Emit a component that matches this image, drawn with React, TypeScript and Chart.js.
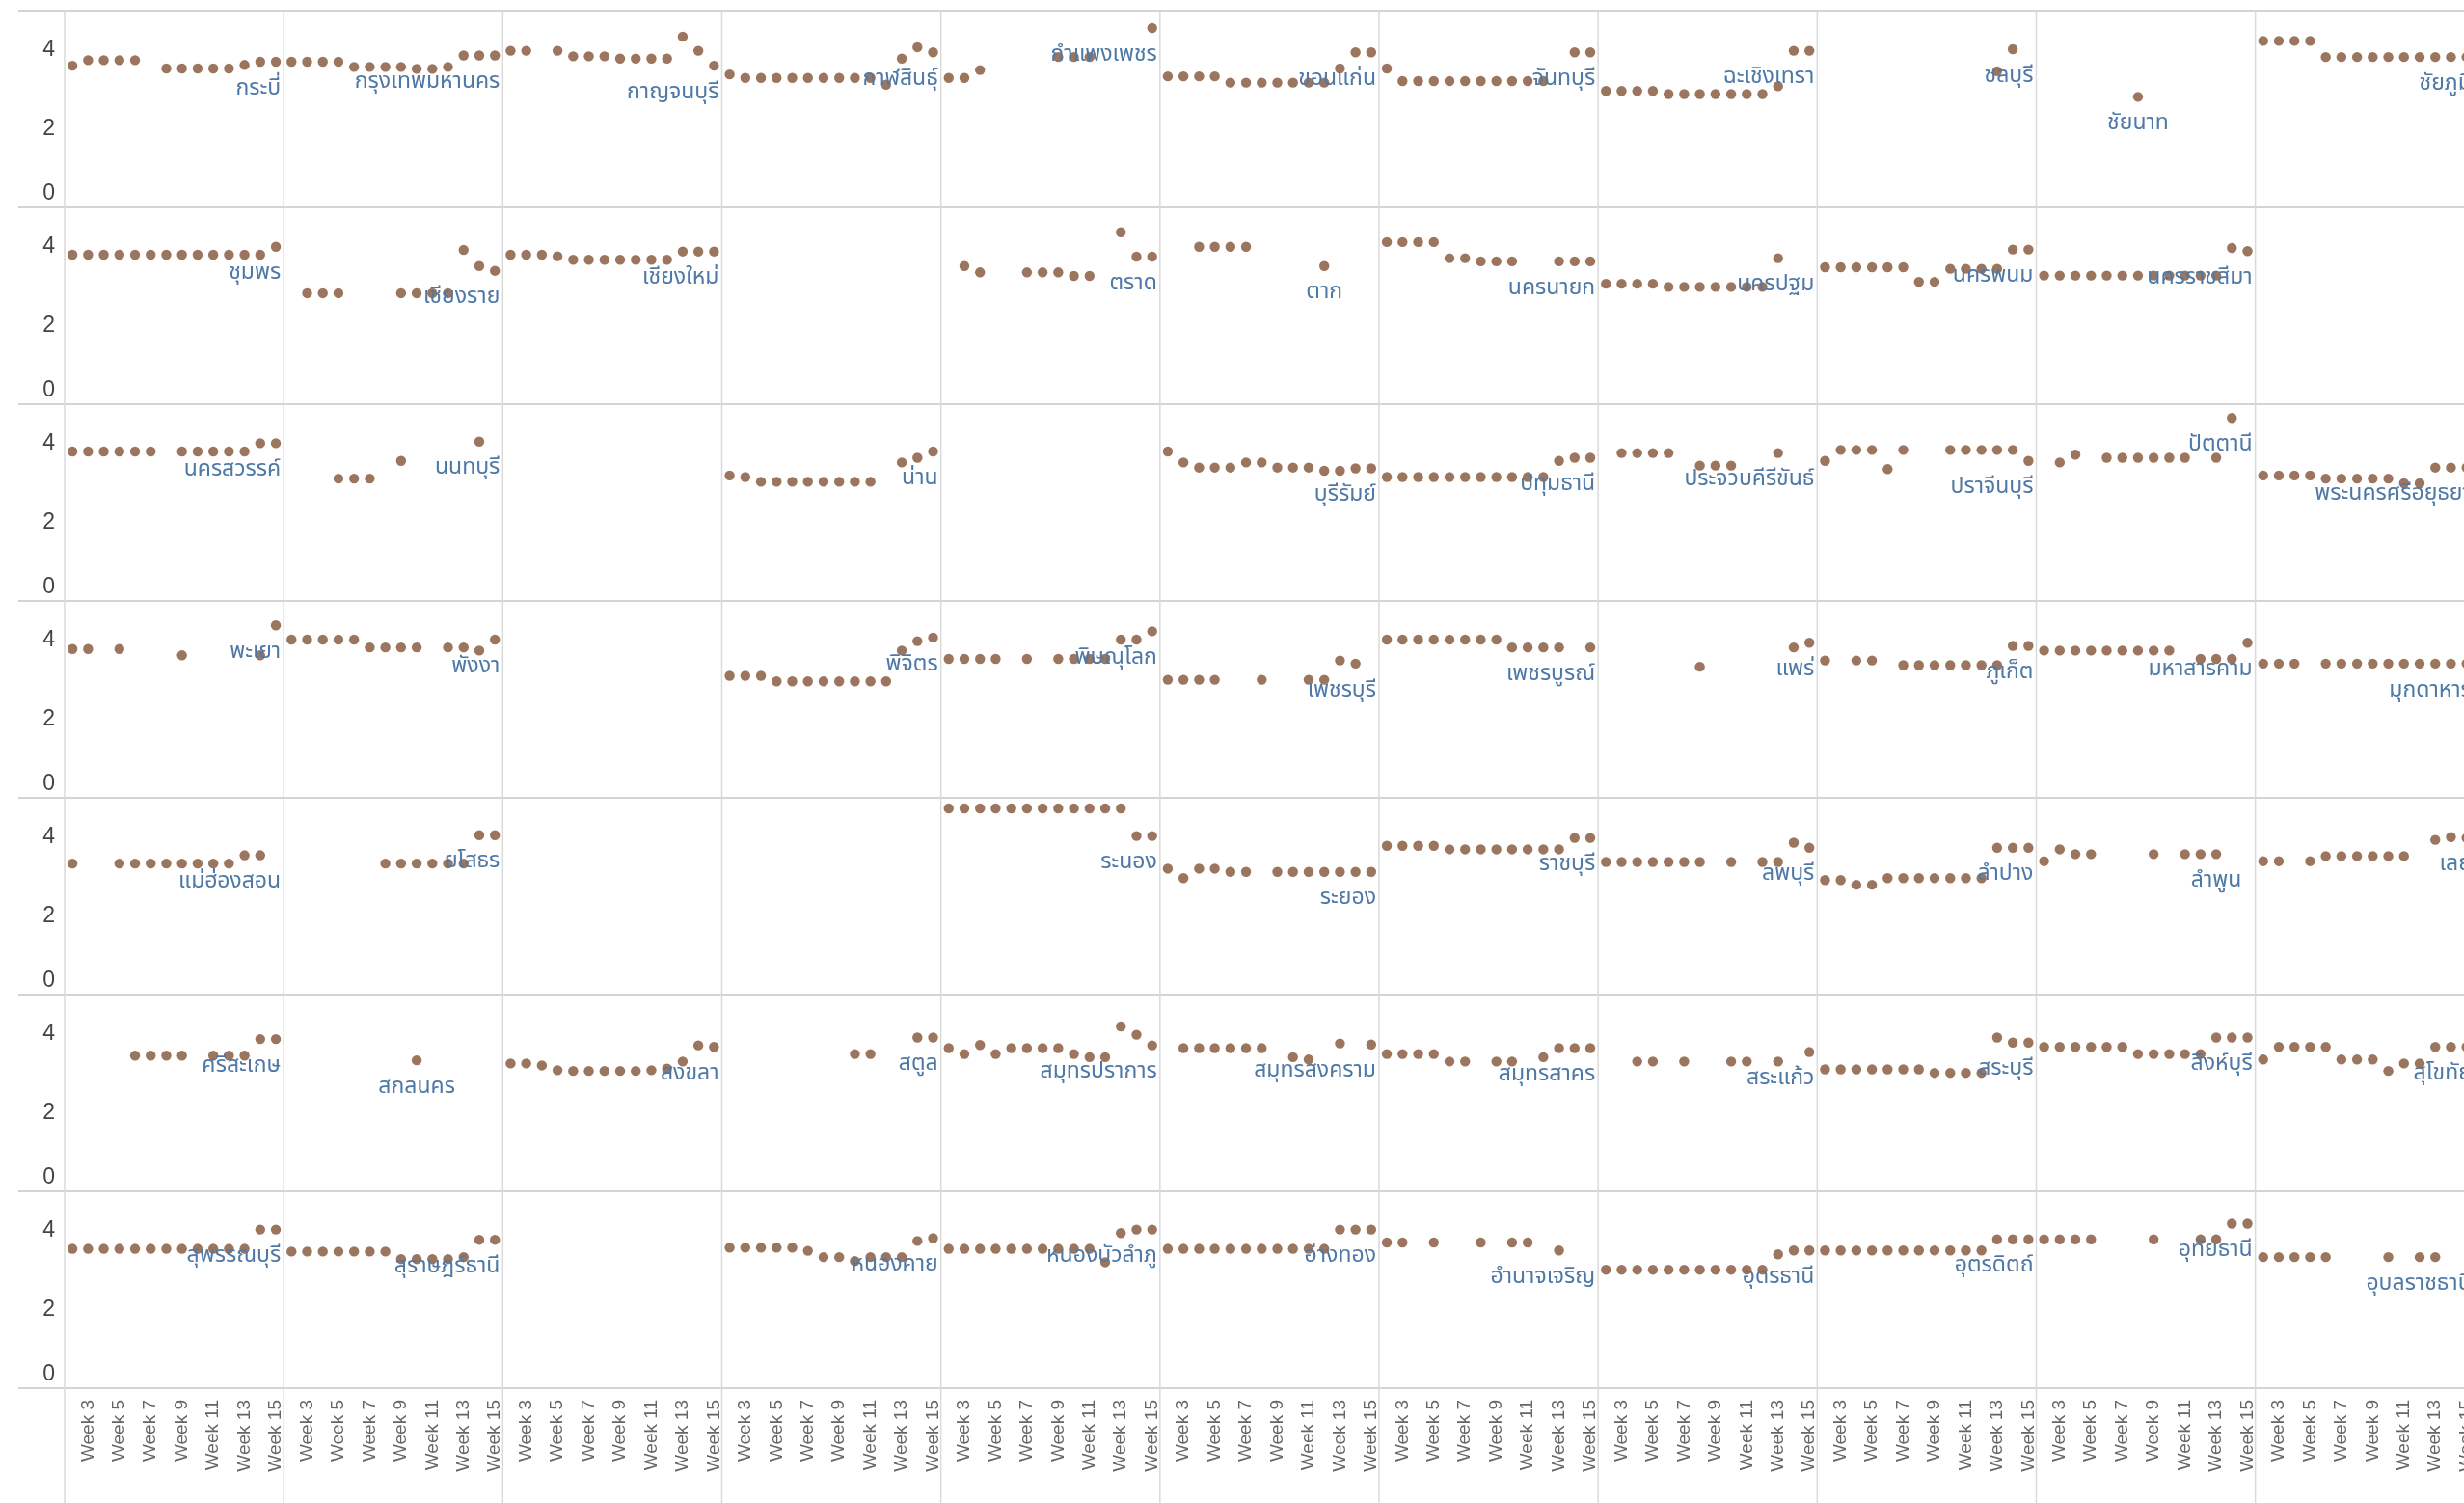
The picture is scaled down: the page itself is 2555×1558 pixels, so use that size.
import React, { useEffect, useRef } from "react";
import { Chart, registerables } from "chart.js";

Chart.register(...registerables);

const N = null;

const weeks = [
  "Week 2", "Week 3", "Week 4", "Week 5", "Week 6", "Week 7", "Week 8",
  "Week 9", "Week 10", "Week 11", "Week 12", "Week 13", "Week 14", "Week 15",
];
const yTickValues = [0, 2, 4];

const row1Provinces = ["กระบี่", "กรุงเทพมหานคร", "กาญจนบุรี", "กาฬสินธุ์", "กำแพงเพชร", "ขอนแก่น", "จันทบุรี", "ฉะเชิงเทรา", "ชลบุรี", "ชัยนาท", "ชัยภูมิ"];
const row1Scores = [
  [3.6, 3.74, 3.74, 3.74, 3.74, N, 3.53, 3.53, 3.53, 3.53, 3.53, 3.62, 3.7, 3.7],
  [3.7, 3.7, 3.7, 3.7, 3.57, 3.57, 3.57, 3.57, 3.52, 3.52, 3.57, 3.86, 3.86, 3.86],
  [3.98, 3.98, N, 3.98, 3.84, 3.84, 3.84, 3.78, 3.78, 3.78, 3.78, 4.34, 3.98, 3.6],
  [3.38, 3.29, 3.29, 3.29, 3.29, 3.29, 3.29, 3.29, 3.29, 3.29, 3.12, 3.78, 4.07, 3.94],
  [3.29, 3.29, 3.49, N, N, N, N, 3.82, 3.82, 3.82, N, N, N, 4.56],
  [3.33, 3.33, 3.33, 3.33, 3.17, 3.17, 3.17, 3.17, 3.17, 3.17, 3.17, 3.53, 3.94, 3.94],
  [3.53, 3.21, 3.21, 3.21, 3.21, 3.21, 3.21, 3.21, 3.21, 3.21, 3.21, N, 3.94, 3.94],
  [2.96, 2.96, 2.96, 2.96, 2.88, 2.88, 2.88, 2.88, 2.88, 2.88, 2.88, 3.08, 3.98, 3.98],
  [N, N, N, N, N, N, N, N, N, N, N, 3.46, 4.02, N],
  [N, N, N, N, N, N, 2.81, N, N, N, N, N, N, N],
  [4.23, 4.23, 4.23, 4.23, 3.82, 3.82, 3.82, 3.82, 3.82, 3.82, 3.82, 3.82, 3.82, 3.82],
];

const row2Provinces = ["ชุมพร", "เชียงราย", "เชียงใหม่", "ตรัง", "ตราด", "ตาก", "นครนายก", "นครปฐม", "นครพนม", "นครราชสีมา", "นครศรีธรรมราช"];
const row2Scores = [
  [3.8, 3.8, 3.8, 3.8, 3.8, 3.8, 3.8, 3.8, 3.8, 3.8, 3.8, 3.8, 3.8, 4.0],
  [N, 2.82, 2.82, 2.82, N, N, N, 2.82, 2.82, 2.82, 2.82, 3.92, 3.51, 3.39],
  [3.8, 3.8, 3.8, 3.76, 3.67, 3.67, 3.67, 3.67, 3.67, 3.67, 3.67, 3.88, 3.88, 3.88],
  [N, N, N, N, N, N, N, N, N, N, N, N, N, N],
  [N, 3.51, 3.35, N, N, 3.35, 3.35, 3.35, 3.26, 3.26, N, 4.37, 3.75, 3.75],
  [N, N, 4.0, 4.0, 4.0, 4.0, N, N, N, N, 3.51, N, N, N],
  [4.12, 4.12, 4.12, 4.12, 3.71, 3.71, 3.63, 3.63, 3.63, N, N, 3.63, 3.63, 3.63],
  [3.06, 3.06, 3.06, 3.06, 2.98, 2.98, 2.98, 2.98, 2.98, 2.98, 2.98, 3.71, N, N],
  [3.48, 3.48, 3.48, 3.48, 3.48, 3.48, 3.11, 3.11, 3.44, 3.44, 3.44, 3.44, 3.93, 3.93],
  [3.27, 3.27, 3.27, 3.27, 3.27, 3.27, 3.27, 3.27, 3.27, 3.27, 3.27, 3.27, 3.97, 3.89],
  [N, N, N, N, N, N, N, N, N, N, N, N, N, N],
];

const row3Provinces = ["นครสวรรค์", "นนทบุรี", "นราธิวาส", "น่าน", "บึงกาฬ", "บุรีรัมย์", "ปทุมธานี", "ประจวบคีรีขันธ์", "ปราจีนบุรี", "ปัตตานี", "พระนครศรีอยุธยา"];
const row3Scores = [
  [3.8, 3.8, 3.8, 3.8, 3.8, 3.8, N, 3.8, 3.8, 3.8, 3.8, 3.8, 4.01, 4.01],
  [N, N, N, 3.11, 3.11, 3.11, N, 3.56, N, N, N, N, 4.05, N],
  [N, N, N, N, N, N, N, N, N, N, N, N, N, N],
  [3.19, 3.15, 3.03, 3.03, 3.03, 3.03, 3.03, 3.03, 3.03, 3.03, N, 3.52, 3.64, 3.8],
  [N, N, N, N, N, N, N, N, N, N, N, N, N, N],
  [3.8, 3.52, 3.39, 3.39, 3.39, 3.52, 3.52, 3.39, 3.39, 3.39, 3.31, 3.31, 3.37, 3.37],
  [3.15, 3.15, 3.15, 3.15, 3.15, 3.15, 3.15, 3.15, 3.15, 3.15, 3.15, 3.56, 3.64, 3.64],
  [N, 3.76, 3.76, 3.76, 3.76, N, 3.44, 3.44, 3.44, N, N, 3.76, N, N],
  [3.56, 3.84, 3.84, 3.84, 3.35, 3.84, N, N, 3.84, 3.84, 3.84, 3.84, 3.84, 3.56],
  [N, 3.52, 3.72, N, 3.64, 3.64, 3.64, 3.64, 3.64, 3.64, N, 3.64, 4.65, N],
  [3.19, 3.19, 3.19, 3.19, 3.11, 3.11, 3.11, 3.11, 3.11, 2.99, 2.99, 3.39, 3.39, 3.39],
];

const row4Provinces = ["พะเยา", "พังงา", "พัทลุง", "พิจิตร", "พิษณุโลก", "เพชรบุรี", "เพชรบูรณ์", "แพร่", "ภูเก็ต", "มหาสารคาม", "มุกดาหาร"];
const row4Scores = [
  [3.78, 3.78, N, 3.78, N, N, N, 3.62, N, N, N, N, 3.62, 4.38],
  [4.02, 4.02, 4.02, 4.02, 4.02, 3.82, 3.82, 3.82, 3.82, N, 3.82, 3.82, 3.74, 4.02],
  [N, N, N, N, N, N, N, N, N, N, N, N, N, N],
  [3.1, 3.1, 3.1, 2.96, 2.96, 2.96, 2.96, 2.96, 2.96, 2.96, 2.96, 3.74, 3.98, 4.07],
  [3.53, 3.53, 3.53, 3.53, N, 3.53, N, 3.53, 3.53, 3.53, 3.53, 4.02, 4.02, 4.23],
  [3.0, 3.0, 3.0, 3.0, N, N, 3.0, N, N, 3.0, 3.0, 3.49, 3.41, N],
  [4.02, 4.02, 4.02, 4.02, 4.02, 4.02, 4.02, 4.02, 3.82, 3.82, 3.82, 3.82, N, 3.82],
  [N, N, N, N, N, N, 3.33, N, N, N, N, N, 3.82, 3.94],
  [3.49, N, 3.49, 3.49, N, 3.37, 3.37, 3.37, 3.37, 3.37, 3.37, 3.37, 3.86, 3.86],
  [3.74, 3.74, 3.74, 3.74, 3.74, 3.74, 3.74, 3.74, 3.74, N, 3.53, 3.53, 3.53, 3.94],
  [3.41, 3.41, 3.41, N, 3.41, 3.41, 3.41, 3.41, 3.41, 3.41, 3.41, 3.41, 3.41, 3.41],
];

const row5Provinces = ["แม่ฮ่องสอน", "ยโสธร", "ยะลา", "ร้อยเอ็ด", "ระนอง", "ระยอง", "ราชบุรี", "ลพบุรี", "ลำปาง", "ลำพูน", "เลย"];
const row5Scores = [
  [3.33, N, N, 3.33, 3.33, 3.33, 3.33, 3.33, 3.33, 3.33, 3.33, 3.54, 3.54, N],
  [N, N, N, N, N, N, 3.33, 3.33, 3.33, 3.33, 3.33, 3.33, 4.05, 4.05],
  [N, N, N, N, N, N, N, N, N, N, N, N, N, N],
  [N, N, N, N, N, N, N, N, N, N, N, N, N, N],
  [4.73, 4.73, 4.73, 4.73, 4.73, 4.73, 4.73, 4.73, 4.73, 4.73, 4.73, 4.73, 4.03, 4.03],
  [3.2, 2.96, 3.2, 3.2, 3.12, 3.12, N, 3.12, 3.12, 3.12, 3.12, 3.12, 3.12, 3.12],
  [3.78, 3.78, 3.78, 3.78, 3.69, 3.69, 3.69, 3.69, 3.69, 3.69, 3.69, 3.69, 3.98, 3.98],
  [3.37, 3.37, 3.37, 3.37, 3.37, 3.37, 3.37, N, 3.37, N, 3.37, 3.37, 3.86, 3.73],
  [2.91, 2.91, 2.79, 2.79, 2.96, 2.96, 2.96, 2.96, 2.96, 2.96, 2.96, 3.73, 3.73, 3.73],
  [3.39, 3.69, 3.57, 3.57, N, N, N, 3.57, N, 3.57, 3.57, 3.57, N, N],
  [3.39, 3.39, N, 3.39, 3.52, 3.52, 3.52, 3.52, 3.52, 3.52, N, 3.93, 4.0, 3.98],
];

const row6Provinces = ["ศรีสะเกษ", "สกลนคร", "สงขลา", "สตูล", "สมุทรปราการ", "สมุทรสงคราม", "สมุทรสาคร", "สระแก้ว", "สระบุรี", "สิงห์บุรี", "สุโขทัย"];
const row6Scores = [
  [N, N, N, N, 3.45, 3.45, 3.45, 3.45, N, 3.45, 3.45, 3.45, 3.87, 3.87],
  [N, N, N, N, N, N, N, N, 3.33, N, N, N, N, N],
  [3.25, 3.25, 3.2, 3.08, 3.06, 3.06, 3.06, 3.06, 3.06, 3.08, 3.12, 3.3, 3.71, 3.67],
  [N, N, N, N, N, N, N, N, 3.49, 3.49, N, N, 3.91, 3.91],
  [3.64, 3.49, 3.72, 3.49, 3.64, 3.64, 3.64, 3.64, 3.49, 3.41, 3.41, 4.19, 3.98, 3.71],
  [N, 3.64, 3.64, 3.64, 3.64, 3.64, 3.64, N, 3.41, 3.35, N, 3.76, N, 3.73],
  [3.49, 3.49, 3.49, 3.49, 3.3, 3.3, N, 3.3, 3.3, N, 3.41, 3.64, 3.64, 3.64],
  [N, N, 3.3, 3.3, N, 3.3, N, N, 3.3, 3.3, N, 3.3, N, 3.54],
  [3.1, 3.1, 3.1, 3.1, 3.1, 3.1, 3.1, 3.01, 3.01, 3.01, 3.01, 3.91, 3.78, 3.78],
  [3.67, 3.67, 3.67, 3.67, 3.67, 3.67, 3.49, 3.49, 3.49, 3.49, 3.49, 3.91, 3.91, 3.91],
  [3.35, 3.67, 3.67, 3.67, 3.67, 3.35, 3.35, 3.35, 3.06, 3.25, 3.25, 3.67, 3.67, 3.67],
];

const row7Provinces = ["สุพรรณบุรี", "สุราษฎร์ธานี", "สุรินทร์", "หนองคาย", "หนองบัวลำภู", "อ่างทอง", "อำนาจเจริญ", "อุดรธานี", "อุตรดิตถ์", "อุทัยธานี", "อุบลราชธานี"];
const row7Scores = [
  [3.54, 3.54, 3.54, 3.54, 3.54, 3.54, 3.54, 3.54, 3.54, 3.54, 3.54, 3.54, 4.03, 4.03],
  [3.47, 3.47, 3.47, 3.47, 3.47, 3.47, 3.47, 3.28, 3.28, 3.28, 3.28, 3.33, 3.77, 3.77],
  [N, N, N, N, N, N, N, N, N, N, N, N, N, N],
  [3.57, 3.57, 3.57, 3.57, 3.57, 3.49, 3.33, 3.33, 3.23, 3.33, 3.33, 3.33, 3.74, 3.81],
  [3.54, 3.54, 3.54, 3.54, 3.54, 3.54, 3.54, 3.54, 3.54, 3.54, 3.2, 3.94, 4.03, 4.03],
  [3.54, 3.54, 3.54, 3.54, 3.54, 3.54, 3.54, 3.54, 3.54, 3.54, 3.54, 4.03, 4.03, 4.03],
  [3.7, 3.7, N, 3.7, N, N, 3.7, N, 3.7, 3.7, N, 3.5, N, N],
  [3.01, 3.01, 3.01, 3.01, 3.01, 3.01, 3.01, 3.01, 3.01, 3.01, 3.01, 3.4, 3.5, 3.5],
  [3.5, 3.5, 3.5, 3.5, 3.5, 3.5, 3.5, 3.5, 3.5, 3.5, 3.5, 3.78, 3.78, 3.78],
  [3.78, 3.78, 3.78, 3.78, N, N, N, 3.78, N, N, 3.78, 3.78, 4.18, 4.18],
  [3.33, 3.33, 3.33, 3.33, 3.33, N, N, N, 3.33, N, 3.33, 3.33, N, N],
];

const provinceRows = [row1Provinces, row2Provinces, row3Provinces, row4Provinces, row5Provinces, row6Provinces, row7Provinces];
const scoreRows = [row1Scores, row2Scores, row3Scores, row4Scores, row5Scores, row6Scores, row7Scores];

const CANVAS_W = 2571;
const CANVAS_H = 1558;
const AXIS_W = 67;
const AXIS_H = 119;
const TOP_PAD = 11;
const DOT = "#9c755f";
const LABEL_BLUE = "#4e79a7";
const LINE = "#d4d4d4";
const THAI_FONT = '"Noto Sans Thai", "Noto Sans Thai UI", "Noto Sans", "DejaVu Sans", sans-serif';
const LATIN_FONT = '"Liberation Sans", Arial, sans-serif';

export default function App() {
  const ref = useRef<HTMLCanvasElement | null>(null);

  useEffect(() => {
    const canvas = ref.current;
    if (!canvas) return;
    const nCols = row1Provinces.length;
    const nRows = provinceRows.length;

    const scales: any = {};
    for (let c = 0; c < nCols; c++) {
      scales["x" + c] = {
        type: "category",
        labels: weeks,
        position: "bottom",
        stack: "cols",
        stackWeight: 1,
        weight: c,
        offset: true,
        grid: { display: false, drawTicks: false },
        border: { display: false },
        ticks: {
          autoSkip: false,
          minRotation: 90,
          maxRotation: 90,
          padding: 12,
          color: "#666",
          font: { family: LATIN_FONT, size: 19 },
          callback: (_v: any, i: number) => (i % 2 === 1 ? weeks[i] : ""),
        },
        afterFit: (s: any) => {
          s.height = AXIS_H;
          s.paddingLeft = 0;
          s.paddingRight = 0;
        },
      };
    }
    for (let r = 0; r < nRows; r++) {
      scales["y" + r] = {
        type: "linear",
        position: "left",
        stack: "rows",
        stackWeight: 1,
        weight: nRows - r,
        min: 0,
        max: 5,
        grid: { display: false, drawTicks: false },
        border: { display: false },
        ticks: { display: false },
        afterFit: (s: any) => {
          s.width = AXIS_W;
          s.paddingTop = 0;
          s.paddingBottom = 0;
        },
      };
    }

    const datasets: any[] = [];
    provinceRows.forEach((names, r) => {
      names.forEach((name, c) => {
        datasets.push({
          label: name,
          data: scoreRows[r][c],
          xAxisID: "x" + c,
          yAxisID: "y" + r,
          showLine: false,
          pointRadius: 5.2,
          pointHoverRadius: 5.2,
          pointBackgroundColor: DOT,
          pointBorderWidth: 0,
          borderColor: DOT,
          backgroundColor: DOT,
        });
      });
    });

    const panelLines = {
      id: "panelLines",
      beforeDatasetsDraw(chart: any) {
        const ctx = chart.ctx;
        ctx.save();
        ctx.strokeStyle = LINE;
        ctx.lineWidth = 2;
        for (let r = 0; r < nRows; r++) {
          const s = chart.scales["y" + r];
          ctx.beginPath();
          ctx.moveTo(19, s.top);
          ctx.lineTo(CANVAS_W, s.top);
          ctx.stroke();
          if (r === nRows - 1) {
            ctx.beginPath();
            ctx.moveTo(19, s.bottom);
            ctx.lineTo(CANVAS_W, s.bottom);
            ctx.stroke();
          }
        }
        ctx.strokeStyle = "#dadada";
        ctx.lineWidth = 1.5;
        for (let c = 0; c < nCols; c++) {
          const s = chart.scales["x" + c];
          ctx.beginPath();
          ctx.moveTo(s.left, chart.chartArea.top);
          ctx.lineTo(s.left, CANVAS_H);
          ctx.stroke();
        }
        ctx.restore();
      },
    };

    const yTickLabels = {
      id: "yTickLabels",
      afterDraw(chart: any) {
        const ctx = chart.ctx;
        ctx.save();
        ctx.fillStyle = "#444";
        ctx.font = `23px ${LATIN_FONT}`;
        ctx.textAlign = "right";
        for (let r = 0; r < nRows; r++) {
          const s = chart.scales["y" + r];
          yTickValues.forEach((v) => {
            const y = s.getPixelForValue(v);
            if (v === 0) {
              ctx.textBaseline = "alphabetic";
              ctx.fillText(String(v), s.right - 10, y - 8);
            } else {
              ctx.textBaseline = "middle";
              ctx.fillText(String(v), s.right - 10, y);
            }
          });
        }
        ctx.restore();
      },
    };

    const provinceLabels = {
      id: "provinceLabels",
      afterDatasetsDraw(chart: any) {
        const ctx = chart.ctx;
        ctx.save();
        ctx.fillStyle = LABEL_BLUE;
        ctx.font = `23px ${THAI_FONT}`;
        ctx.textAlign = "center";
        ctx.textBaseline = "middle";
        chart.data.datasets.forEach((ds: any, i: number) => {
          let last = -1;
          ds.data.forEach((v: any, j: number) => {
            if (v !== null && v !== undefined) last = j;
          });
          if (last < 0) return;
          const pt = chart.getDatasetMeta(i).data[last];
          const xs = chart.scales[ds.xAxisID];
          const w = ctx.measureText(ds.label).width;
          let cx = pt.x;
          cx = Math.min(cx, xs.right - w / 2 - 3);
          cx = Math.max(cx, xs.left + w / 2 + 3);
          ctx.fillText(ds.label, cx, pt.y + 29);
        });
        ctx.restore();
      },
    };

    const chart = new Chart(canvas, {
      type: "line",
      data: { labels: weeks, datasets },
      options: {
        animation: false,
        responsive: false,
        devicePixelRatio: 1,
        events: [],
        layout: { padding: { top: TOP_PAD, left: 0, right: 0, bottom: 0 } },
        plugins: {
          legend: { display: false },
          tooltip: { enabled: false },
          title: { display: false },
        },
        scales,
      },
      plugins: [panelLines, yTickLabels, provinceLabels],
    } as any);

    return () => chart.destroy();
  }, []);

  return (
    <div
      style={{
        position: "absolute",
        left: 0,
        top: 0,
        width: 2555,
        height: 1558,
        overflow: "hidden",
        background: "#fff",
      }}
    >
      <canvas ref={ref} width={CANVAS_W} height={CANVAS_H} style={{ display: "block" }} />
    </div>
  );
}
